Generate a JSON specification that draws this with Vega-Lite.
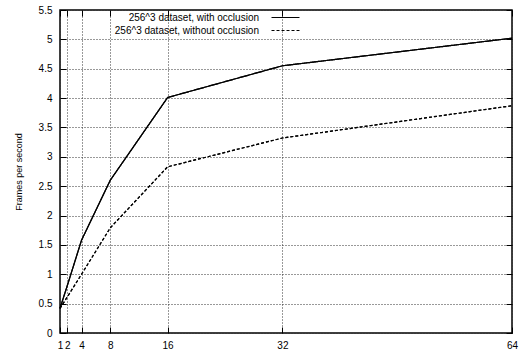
{
  "$schema": "https://vega.github.io/schema/vega-lite/v6.json",
  "width": 452,
  "height": 323,
  "autosize": {"type": "none"},
  "padding": {"left": 60, "top": 10, "right": 8, "bottom": 21},
  "background": "white",
  "config": {
    "font": "Liberation Sans",
    "view": {"stroke": "black", "strokeWidth": 1.5},
    "axis": {
      "gridColor": "#333333",
      "gridDash": [1, 2],
      "gridWidth": 1,
      "gridOpacity": 1,
      "domain": false,
      "tickColor": "black",
      "tickSize": -6,
      "tickWidth": 1,
      "labelFont": "Liberation Sans",
      "labelFontSize": 10,
      "labelColor": "black",
      "titleFont": "Liberation Sans",
      "titleFontWeight": "normal",
      "titleColor": "black"
    }
  },
  "data": {
    "values": [
      {"x": 1, "fps": 0.42, "series": "256^3 dataset, with occlusion"},
      {"x": 2, "fps": 0.8, "series": "256^3 dataset, with occlusion"},
      {"x": 4, "fps": 1.58, "series": "256^3 dataset, with occlusion"},
      {"x": 8, "fps": 2.6, "series": "256^3 dataset, with occlusion"},
      {"x": 16, "fps": 4.01, "series": "256^3 dataset, with occlusion"},
      {"x": 32, "fps": 4.55, "series": "256^3 dataset, with occlusion"},
      {"x": 64, "fps": 5.02, "series": "256^3 dataset, with occlusion"},
      {"x": 1, "fps": 0.42, "series": "256^3 dataset, without occlusion"},
      {"x": 2, "fps": 0.61, "series": "256^3 dataset, without occlusion"},
      {"x": 4, "fps": 1.0, "series": "256^3 dataset, without occlusion"},
      {"x": 8, "fps": 1.79, "series": "256^3 dataset, without occlusion"},
      {"x": 16, "fps": 2.83, "series": "256^3 dataset, without occlusion"},
      {"x": 32, "fps": 3.32, "series": "256^3 dataset, without occlusion"},
      {"x": 64, "fps": 3.87, "series": "256^3 dataset, without occlusion"}
    ]
  },
  "resolve": {"axis": {"x": "independent", "y": "independent"}},
  "layer": [
    {
      "mark": {"type": "line", "color": "black", "strokeWidth": 1.2},
      "encoding": {
        "x": {
          "field": "x",
          "type": "quantitative",
          "scale": {"domain": [1, 64], "nice": false, "zero": false},
          "axis": {"values": [1, 2, 4, 8, 16, 32, 64], "title": null, "grid": true, "labelPadding": 13, "labelFlush": false}
        },
        "y": {
          "field": "fps",
          "type": "quantitative",
          "scale": {"domain": [0, 5.5], "nice": false},
          "axis": {"values": [0, 0.5, 1, 1.5, 2, 2.5, 3, 3.5, 4, 4.5, 5, 5.5], "format": "~g", "grid": true, "title": "Frames per second", "titleFontSize": 9, "titlePadding": 15, "labelPadding": 14, "labelFlush": false}
        },
        "strokeDash": {
          "field": "series",
          "type": "nominal",
          "scale": {"domain": ["256^3 dataset, with occlusion", "256^3 dataset, without occlusion"], "range": [[1, 0], [3, 2]]},
          "legend": {
            "title": null,
            "orient": "none",
            "legendX": 220,
            "legendY": 2,
            "padding": 0,
            "symbolType": "M-3,0H3",
            "symbolSize": 87,
            "symbolFillColor": "transparent",
            "symbolStrokeColor": "black",
            "symbolStrokeWidth": 1.2,
            "labelAlign": "right",
            "labelOffset": -32,
            "labelFontSize": 10,
            "labelFont": "Liberation Sans",
            "labelColor": "black",
            "rowPadding": 2,
            "labelLimit": 300
          }
        }
      }
    },
    {
      "mark": {"type": "line", "color": "black", "strokeWidth": 1.2},
      "encoding": {
        "x": {
          "field": "x",
          "type": "quantitative",
          "axis": {"orient": "top", "values": [1, 2, 4, 8, 16, 32, 64], "title": null, "labels": false, "grid": false}
        },
        "y": {
          "field": "fps",
          "type": "quantitative",
          "axis": {"orient": "right", "values": [0, 0.5, 1, 1.5, 2, 2.5, 3, 3.5, 4, 4.5, 5, 5.5], "title": null, "labels": false, "grid": false}
        },
        "strokeDash": {"field": "series", "type": "nominal"}
      }
    }
  ]
}
